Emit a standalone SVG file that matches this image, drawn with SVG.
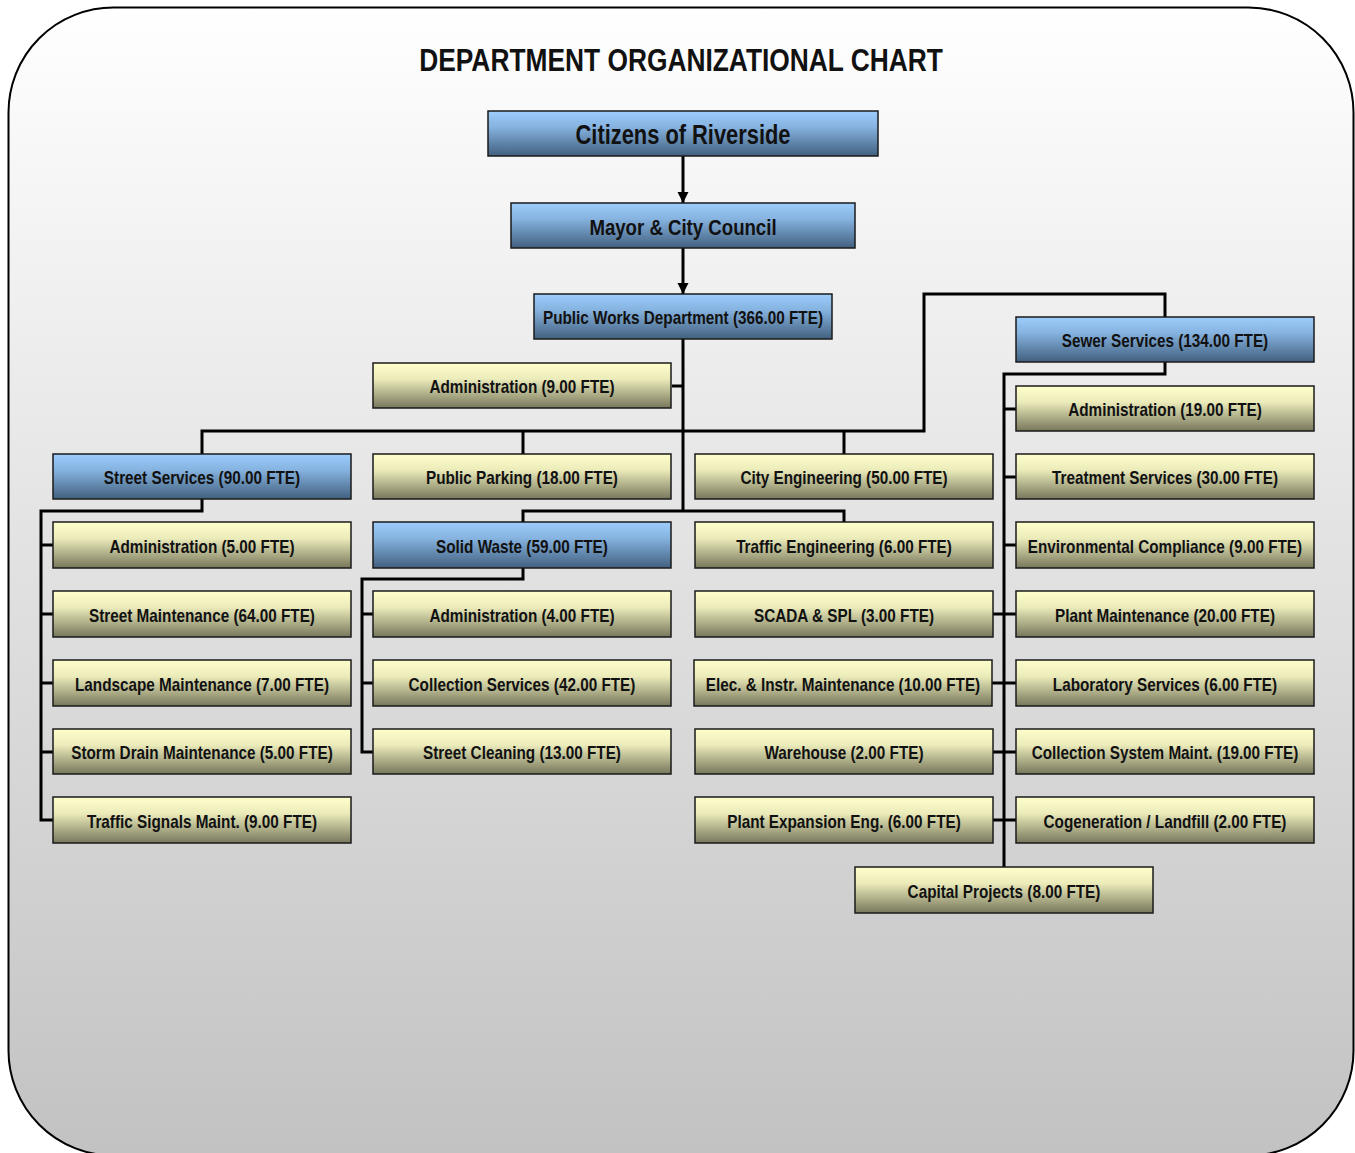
<svg xmlns="http://www.w3.org/2000/svg" width="1355" height="1153" viewBox="0 0 1355 1153">
<defs>
<linearGradient id="bg" x1="0" y1="0" x2="0" y2="1"><stop offset="0" stop-color="#ffffff"/><stop offset="1" stop-color="#c2c2c2"/></linearGradient>
<linearGradient id="gb" x1="0" y1="0" x2="0" y2="1"><stop offset="0" stop-color="#9dcdfc"/><stop offset="0.35" stop-color="#86b3e0"/><stop offset="1" stop-color="#42607f"/></linearGradient>
<linearGradient id="gy" x1="0" y1="0" x2="0" y2="1"><stop offset="0" stop-color="#ffffcc"/><stop offset="0.35" stop-color="#ececbb"/><stop offset="1" stop-color="#77775c"/></linearGradient>
<marker id="arr" markerWidth="14" markerHeight="14" refX="11" refY="7" orient="auto" markerUnits="userSpaceOnUse" viewBox="0 0 14 14"><path d="M0,1.5 L11,7 L0,12.5 Z" fill="#000"/></marker>
</defs>
<style>
.b{fill:url(#gb);stroke:#1a1a1a;stroke-width:1.5}
.y{fill:url(#gy);stroke:#1a1a1a;stroke-width:1.5}
text{font-family:"Liberation Sans",Arial,sans-serif;font-weight:bold;fill:#111;text-anchor:middle;transform-box:fill-box;transform-origin:center;transform:scaleX(0.85)}
.t{font-size:18px}
.n{transform:scaleX(0.81)}
.c{fill:none;stroke:#000;stroke-width:3}
</style>
<rect x="8.5" y="7.5" width="1345" height="1148" rx="105" ry="105" fill="url(#bg)" stroke="#000" stroke-width="2"/>
<text x="681" y="71" style="font-size:31px">DEPARTMENT ORGANIZATIONAL CHART</text>
<g id="connectors">
<path class="c" d="M683,156 V203" marker-end="url(#arr)"/>
<path class="c" d="M683,248 V294" marker-end="url(#arr)"/>
<path class="c" d="M683,339 V511"/>
<path class="c" d="M672,386 H683"/>
<path class="c" d="M202,454 V431 H924 V294 H1165 V317"/>
<path class="c" d="M523,431 V454 M844,431 V454"/>
<path class="c" d="M523,522 V511 H844 V522"/>
<path class="c" d="M202,499 V511 H41 V820 H53 M41,545 H53 M41,614 H53 M41,683 H53 M41,752 H53"/>
<path class="c" d="M523,568 V579 H362 V752 H373 M362,614 H373 M362,683 H373"/>
<path class="c" d="M1165,362 V374 H1004 V867 M1004,409 H1016 M1004,477 H1016 M1004,545 H1016 M993,614 H1016 M992,683 H1016 M993,752 H1016 M993,820 H1016"/>
</g>
<g id="n-citizens"><rect class="b" x="488" y="111" width="390" height="45"/><text class="n" x="683" y="144" style="font-size:27px">Citizens of Riverside</text></g>
<g id="n-mayor"><rect class="b" x="511" y="203" width="344" height="45"/><text class="n" x="683" y="235" style="font-size:23px">Mayor &amp; City Council</text></g>
<g id="n-pw"><rect class="b" x="534" y="294" width="298" height="45"/><text class="t" x="683" y="324">Public Works Department (366.00 FTE)</text></g>
<g id="n-admin9"><rect class="y" x="373" y="363" width="298" height="45"/><text class="t" x="522" y="393">Administration (9.00 FTE)</text></g>
<g id="n-street"><rect class="b" x="53" y="454" width="298" height="45"/><text class="t" x="202" y="484">Street Services (90.00 FTE)</text></g>
<g id="n-parking"><rect class="y" x="373" y="454" width="298" height="45"/><text class="t" x="522" y="484">Public Parking (18.00 FTE)</text></g>
<g id="n-cityeng"><rect class="y" x="695" y="454" width="298" height="45"/><text class="t" x="844" y="484">City Engineering (50.00 FTE)</text></g>
<g id="n-sewer"><rect class="b" x="1016" y="317" width="298" height="45"/><text class="t" x="1165" y="347">Sewer Services (134.00 FTE)</text></g>
<g id="n-admin19"><rect class="y" x="1016" y="386" width="298" height="45"/><text class="t" x="1165" y="416">Administration (19.00 FTE)</text></g>
<g id="n-treat"><rect class="y" x="1016" y="454" width="298" height="45"/><text class="t" x="1165" y="484">Treatment Services (30.00 FTE)</text></g>
<g id="n-env"><rect class="y" x="1016" y="522" width="298" height="46"/><text class="t" x="1165" y="553">Environmental Compliance (9.00 FTE)</text></g>
<g id="n-plant"><rect class="y" x="1016" y="591" width="298" height="46"/><text class="t" x="1165" y="622">Plant Maintenance (20.00 FTE)</text></g>
<g id="n-lab"><rect class="y" x="1016" y="660" width="298" height="46"/><text class="t" x="1165" y="691">Laboratory Services (6.00 FTE)</text></g>
<g id="n-collsys"><rect class="y" x="1016" y="729" width="298" height="45"/><text class="t" x="1165" y="759">Collection System Maint. (19.00 FTE)</text></g>
<g id="n-cogen"><rect class="y" x="1016" y="797" width="298" height="46"/><text class="t" x="1165" y="828">Cogeneration / Landfill (2.00 FTE)</text></g>
<g id="n-admin5"><rect class="y" x="53" y="522" width="298" height="46"/><text class="t" x="202" y="553">Administration (5.00 FTE)</text></g>
<g id="n-stmaint"><rect class="y" x="53" y="591" width="298" height="46"/><text class="t" x="202" y="622">Street Maintenance (64.00 FTE)</text></g>
<g id="n-land"><rect class="y" x="53" y="660" width="298" height="46"/><text class="t" x="202" y="691">Landscape Maintenance (7.00 FTE)</text></g>
<g id="n-storm"><rect class="y" x="53" y="729" width="298" height="45"/><text class="t" x="202" y="759">Storm Drain Maintenance (5.00 FTE)</text></g>
<g id="n-signals"><rect class="y" x="53" y="797" width="298" height="46"/><text class="t" x="202" y="828">Traffic Signals Maint. (9.00 FTE)</text></g>
<g id="n-solid"><rect class="b" x="373" y="522" width="298" height="46"/><text class="t" x="522" y="553">Solid Waste (59.00 FTE)</text></g>
<g id="n-admin4"><rect class="y" x="373" y="591" width="298" height="46"/><text class="t" x="522" y="622">Administration (4.00 FTE)</text></g>
<g id="n-collsvc"><rect class="y" x="373" y="660" width="298" height="46"/><text class="t" x="522" y="691">Collection Services (42.00 FTE)</text></g>
<g id="n-clean"><rect class="y" x="373" y="729" width="298" height="45"/><text class="t" x="522" y="759">Street Cleaning (13.00 FTE)</text></g>
<g id="n-traffeng"><rect class="y" x="695" y="522" width="298" height="46"/><text class="t" x="844" y="553">Traffic Engineering (6.00 FTE)</text></g>
<g id="n-scada"><rect class="y" x="695" y="591" width="298" height="46"/><text class="t" x="844" y="622">SCADA &amp; SPL (3.00 FTE)</text></g>
<g id="n-elec"><rect class="y" x="694" y="660" width="298" height="46"/><text class="t" x="843" y="691">Elec. &amp; Instr. Maintenance (10.00 FTE)</text></g>
<g id="n-ware"><rect class="y" x="695" y="729" width="298" height="45"/><text class="t" x="844" y="759">Warehouse (2.00 FTE)</text></g>
<g id="n-plantexp"><rect class="y" x="695" y="797" width="298" height="46"/><text class="t" x="844" y="828">Plant Expansion Eng. (6.00 FTE)</text></g>
<g id="n-capital"><rect class="y" x="855" y="867" width="298" height="46"/><text class="t" x="1004" y="898">Capital Projects (8.00 FTE)</text></g>
</svg>
